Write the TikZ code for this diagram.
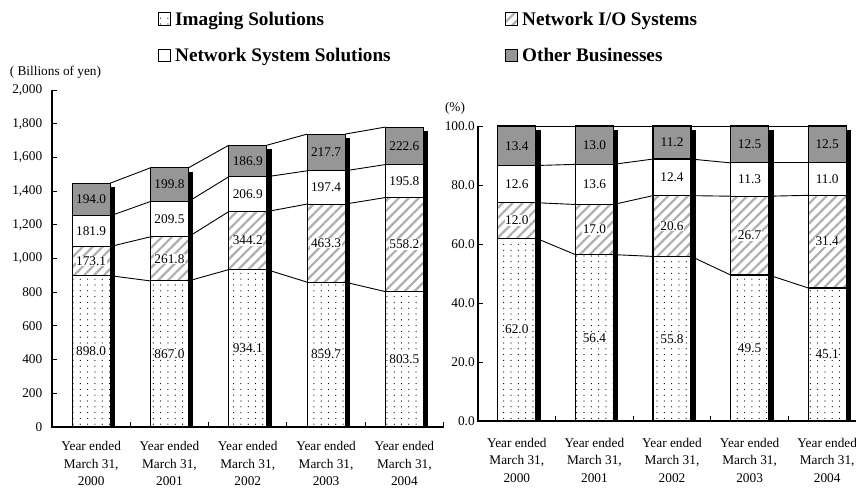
\documentclass[tikz,border=0pt]{standalone}
\usepackage{fontspec}
\setmainfont{Liberation Serif}
\usetikzlibrary{patterns,patterns.meta}
\definecolor{othergray}{RGB}{150,150,150}
\definecolor{hatchgray}{RGB}{175,175,175}
\pgfdeclarepatternformonly{sparsedots}{\pgfpoint{-1pt}{-1pt}}{\pgfpoint{1pt}{1pt}}{\pgfpoint{7.3pt}{5.8pt}}{%
  \pgfpathcircle{\pgfpointorigin}{0.62pt}\pgfusepath{fill}}
\tikzset{
  barline/.style={draw=black, line width=1.1pt},
  dotsfill/.style={preaction={fill=white}, pattern=sparsedots, pattern color=black},
  hatchfill/.style={preaction={fill=white}, pattern={Lines[angle=45,distance=7pt,line width=2.2pt]}, pattern color=hatchgray},
  nssfill/.style={fill=white},
  otherfill/.style={fill=othergray},
  barshadow/.style={fill=black},
  conn/.style={draw=black, line width=0.9pt},
  axisline/.style={draw=black, line width=1.1pt},
  tickmark/.style={draw=black, line width=0.9pt},
  lab/.style={font=\fontsize{13.3}{17.5}\selectfont, inner sep=0.6pt},
  vlab/.style={lab, fill=white},
  ticklab/.style={lab, anchor=east},
  yearlab/.style={lab, align=center},
  legtext/.style={font=\fontsize{19.2}{22}\selectfont\bfseries, anchor=base west, inner sep=0pt},
  legbox/.style={draw=black, line width=0.9pt},
}
\newcommand\LeftBar[6]{%
  \pgfmathsetmacro\ya{427-0.1685*(#3)}%
  \pgfmathsetmacro\yb{427-0.1685*(#3+#4)}%
  \pgfmathsetmacro\yc{427-0.1685*(#3+#4+#5)}%
  \pgfmathsetmacro\yd{427-0.1685*(#3+#4+#5+#6)}%
  \pgfmathsetmacro\xl{#2-19}%
  \pgfmathsetmacro\xr{#2+19}%
  \fill[barshadow] (\xr,{\yd+4}) rectangle ({\xr+5},427);
  \draw[barline,dotsfill] (\xl,427) rectangle (\xr,\ya);
  \draw[barline,hatchfill] (\xl,\ya) rectangle (\xr,\yb);
  \draw[barline,nssfill] (\xl,\yb) rectangle (\xr,\yc);
  \draw[barline,otherfill] (\xl,\yc) rectangle (\xr,\yd);
  \coordinate (L#1l1) at (\xl,\ya); \coordinate (L#1r1) at (\xr,\ya);
  \coordinate (L#1l2) at (\xl,\yb); \coordinate (L#1r2) at (\xr,\yb);
  \coordinate (L#1l3) at (\xl,\yc); \coordinate (L#1r3) at (\xr,\yc);
  \coordinate (L#1l4) at (\xl,\yd); \coordinate (L#1r4) at (\xr,\yd);
  \node[vlab] (L#1v1) at (#2,{(427+\ya)/2}) {#3};
  \node[vlab] (L#1v2) at (#2,{(\ya+\yb)/2}) {#4};
  \node[lab] (L#1v3) at (#2,{(\yb+\yc)/2}) {#5};
  \node[lab] (L#1v4) at (#2,{(\yc+\yd)/2}) {#6};
}
\newcommand\RightBar[6]{%
  \pgfmathsetmacro\ya{421-2.95*(#3)}%
  \pgfmathsetmacro\yb{421-2.95*(#3+#4)}%
  \pgfmathsetmacro\yc{421-2.95*(#3+#4+#5)}%
  \pgfmathsetmacro\yd{421-2.95*(100)}%
  \pgfmathsetmacro\xl{#2-19}%
  \pgfmathsetmacro\xr{#2+19}%
  \fill[barshadow] (\xr,{\yd+4}) rectangle ({\xr+5},421);
  \draw[barline,dotsfill] (\xl,421) rectangle (\xr,\ya);
  \draw[barline,hatchfill] (\xl,\ya) rectangle (\xr,\yb);
  \draw[barline,nssfill] (\xl,\yb) rectangle (\xr,\yc);
  \draw[barline,otherfill] (\xl,\yc) rectangle (\xr,\yd);
  \coordinate (R#1l1) at (\xl,\ya); \coordinate (R#1r1) at (\xr,\ya);
  \coordinate (R#1l2) at (\xl,\yb); \coordinate (R#1r2) at (\xr,\yb);
  \coordinate (R#1l3) at (\xl,\yc); \coordinate (R#1r3) at (\xr,\yc);
  \coordinate (R#1l4) at (\xl,\yd); \coordinate (R#1r4) at (\xr,\yd);
  \node[vlab] (R#1v1) at (#2,{(421+\ya)/2}) {#3};
  \node[vlab] (R#1v2) at (#2,{(\ya+\yb)/2}) {#4};
  \node[lab] (R#1v3) at (#2,{(\yb+\yc)/2}) {#5};
  \node[lab] (R#1v4) at (#2,{(\yc+\yd)/2}) {#6};
}
\begin{document}
\begin{tikzpicture}[x=1pt,y=-1pt]
\useasboundingbox (0,0) rectangle (856,488);
\fill[white] (0,0) rectangle (856,488);
\clip (0,0) rectangle (856,488);

% ---------- legend ----------
\draw[legbox,dotsfill] (158,12.5) rectangle (170.5,25);
\node[legtext] (lg1) at (175,25) {Imaging Solutions};
\draw[legbox,nssfill] (158,49) rectangle (170.5,61.5);
\node[legtext] (lg2) at (175,61.5) {Network System Solutions};
\draw[legbox,hatchfill] (505,12.5) rectangle (517.5,25);
\node[legtext] (lg3) at (522,25) {Network I/O Systems};
\draw[legbox,otherfill] (505,49) rectangle (517.5,61.5);
\node[legtext] (lg4) at (522,61.5) {Other Businesses};

% ---------- left chart ----------
\node[lab, anchor=west] (unitL) at (9,72) {( Billions of yen)};
\coordinate (LT) at (52,90);
\coordinate (LO) at (52,427);
\coordinate (LE) at (443.5,427);
\foreach \v/\t in {0/0,200/200,400/400,600/600,800/800,1000/{1,000},1200/{1,200},1400/{1,400},1600/{1,600},1800/{1,800},2000/{2,000}}{
  \draw[tickmark] (52,{427-0.1685*\v}) -- ++(5,0);
  \node[ticklab] (lt\v) at (43,{427-0.1685*\v}) {\t};
}
\foreach \x in {130.3,208.6,286.9,365.2,443.5}{
  \draw[tickmark] (\x,427) -- ++(0,-5);
}
\LeftBar{1}{91.15}{898.0}{173.1}{181.9}{194.0}
\LeftBar{2}{169.45}{867.0}{261.8}{209.5}{199.8}
\LeftBar{3}{247.75}{934.1}{344.2}{206.9}{186.9}
\LeftBar{4}{326.05}{859.7}{463.3}{197.4}{217.7}
\LeftBar{5}{404.35}{803.5}{558.2}{195.8}{222.6}
\foreach \i/\j in {1/2,2/3,3/4,4/5}{
  \foreach \k in {1,2,3,4}{
    \draw[conn] (L\i r\k) -- (L\j l\k);
  }
}
\draw[axisline] (LT) -- (LO) -- (LE);
\node[yearlab] (ly1) at (91.15,463.5) {Year ended\\March 31,\\2000};
\node[yearlab] (ly2) at (169.45,463.5) {Year ended\\March 31,\\2001};
\node[yearlab] (ly3) at (247.75,463.5) {Year ended\\March 31,\\2002};
\node[yearlab] (ly4) at (326.05,463.5) {Year ended\\March 31,\\2003};
\node[yearlab] (ly5) at (404.35,463.5) {Year ended\\March 31,\\2004};

% ---------- right chart ----------
\node[lab] (unitR) at (455,108) {(\%)};
\coordinate (RT) at (478,126);
\coordinate (RO) at (478,421);
\coordinate (RE) at (866,421);
\foreach \v/\t in {0/0.0,20/20.0,40/40.0,60/60.0,80/80.0,100/100.0}{
  \draw[tickmark] (478,{421-2.95*\v}) -- ++(5,0);
  \node[ticklab] (rt\v) at (475.5,{421-2.95*\v}) {\t};
}
\foreach \x in {555.6,633.2,710.8,788.4,866}{
  \draw[tickmark] (\x,421) -- ++(0,-5);
}
\RightBar{1}{516.8}{62.0}{12.0}{12.6}{13.4}
\RightBar{2}{594.4}{56.4}{17.0}{13.6}{13.0}
\RightBar{3}{672.0}{55.8}{20.6}{12.4}{11.2}
\RightBar{4}{749.6}{49.5}{26.7}{11.3}{12.5}
\RightBar{5}{827.2}{45.1}{31.4}{11.0}{12.5}
\foreach \i/\j in {1/2,2/3,3/4,4/5}{
  \foreach \k in {1,2,3,4}{
    \draw[conn] (R\i r\k) -- (R\j l\k);
  }
}
\draw[axisline] (RT) -- (RO) -- (RE);
\node[yearlab] (ry1) at (516.8,460) {Year ended\\March 31,\\2000};
\node[yearlab] (ry2) at (594.4,460) {Year ended\\March 31,\\2001};
\node[yearlab] (ry3) at (672.0,460) {Year ended\\March 31,\\2002};
\node[yearlab] (ry4) at (749.6,460) {Year ended\\March 31,\\2003};
\node[yearlab] (ry5) at (827.2,460) {Year ended\\March 31,\\2004};
\end{tikzpicture}
\end{document}
